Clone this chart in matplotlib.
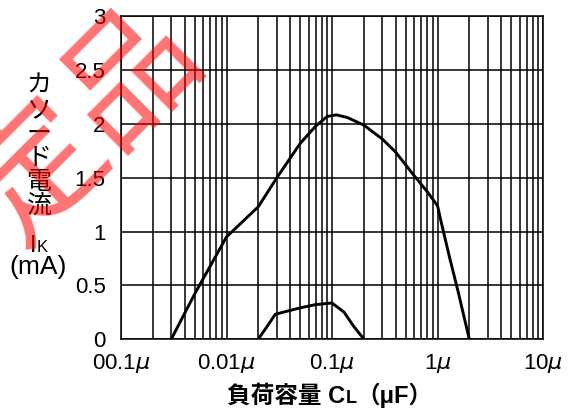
import numpy as np
import matplotlib
matplotlib.use("Agg")
import matplotlib.pyplot as plt
from matplotlib.ticker import FixedLocator, NullFormatter

plt.rcParams['font.family'] = ['Liberation Sans', 'Noto Sans CJK JP', 'DejaVu Sans']

# load capacitance (uF) vs cathode current (mA)
cl_upper = [0.003, 0.005, 0.01, 0.02, 0.03, 0.05, 0.07, 0.09, 0.11, 0.14, 0.2,
            0.3, 0.4, 0.6, 0.8, 1.0, 1.1, 1.3, 1.56, 2.0]
ik_upper = [0, 0.42, 0.95, 1.23, 1.5, 1.82, 1.98, 2.07, 2.085, 2.06, 1.99,
            1.86, 1.74, 1.52, 1.37, 1.24, 1.06, 0.76, 0.45, 0]
cl_lower = [0.02, 0.024, 0.029, 0.05, 0.07, 0.1, 0.13, 0.16, 0.2]
ik_lower = [0, 0.11, 0.23, 0.29, 0.32, 0.335, 0.25, 0.12, 0]

x_ticks = [0.001, 0.01, 0.1, 1, 10]
x_labels = [r"00.1$\mu$", r"0.01$\mu$", r"0.1$\mu$", r"1$\mu$", r"10$\mu$"]
y_ticks = [0, 0.5, 1, 1.5, 2, 2.5, 3]
y_labels = ["0", "0.5", "1", "1.5", "2", "2.5", "3"]

W, H = 569, 411
fig = plt.figure(figsize=(W / 100, H / 100), dpi=100)
ax = fig.add_axes([121 / W, 1 - 339 / H, 422 / W, 322.5 / H])

ax.plot(cl_upper, ik_upper, color='black', lw=2.1, zorder=3)
ax.plot(cl_lower, ik_lower, color='black', lw=2.1, zorder=3)

ax.set_xscale('log')
ax.set_xlim(0.001, 10)
ax.set_ylim(0, 3)

# every decade line plus 2..9 in between
minor = [m * 10.0 ** e for e in range(-3, 1) for m in range(2, 10)]
ax.xaxis.set_major_locator(FixedLocator(x_ticks))
ax.xaxis.set_minor_locator(FixedLocator(minor))
ax.xaxis.set_minor_formatter(NullFormatter())
ax.set_xticklabels(x_labels)
ax.set_yticks(y_ticks)
ax.set_yticklabels(y_labels)

ax.grid(True, which='both', color='black', lw=1.1)
ax.set_axisbelow(True)
for s in ax.spines.values():
    s.set_color('black')
    s.set_linewidth(1.1)
ax.tick_params(axis='both', which='both', length=0, labelsize=16)
ax.tick_params(axis='x', pad=9)
ax.tick_params(axis='y', pad=11)

fig.canvas.draw()
rend = fig.canvas.get_renderer()


def put_run(pieces, xc, y, **kw):
    # lay out text pieces of different size side by side, centred on xc (px)
    objs = []
    off = 0
    for s, size in pieces:
        t = fig.text(0, y, s, fontsize=size, ha='left', va='baseline', **kw)
        w = t.get_window_extent(rend).width
        objs.append((t, off))
        off += w
    x0 = xc - off / 2
    for t, o in objs:
        t.set_x((x0 + o) / W)


# y label, stacked vertically
for ch, yc in zip("カソード電流", [86, 110, 134, 158, 182, 206]):
    fig.text(39 / W, 1 - yc / H, ch, fontsize=18, ha='center', va='center')
put_run([("I", 17), ("K", 12)], 39, 1 - 252 / H)
fig.text(38 / W, 1 - 267 / H, "(mA)", fontsize=19, ha='center', va='center')

# x label
put_run([("負荷容量 C", 17), ("L", 13), ("（μF）", 17)], 330, 1 - 403 / H,
        fontweight='bold')

# red stamp over the top left corner
fig.text(88 / W, 1 - 128 / H, "定品", fontsize=96,
         color='red', alpha=0.55, rotation=45, ha='center', va='center',
         rotation_mode='anchor', zorder=10)

fig.savefig("out.png", dpi=100)
